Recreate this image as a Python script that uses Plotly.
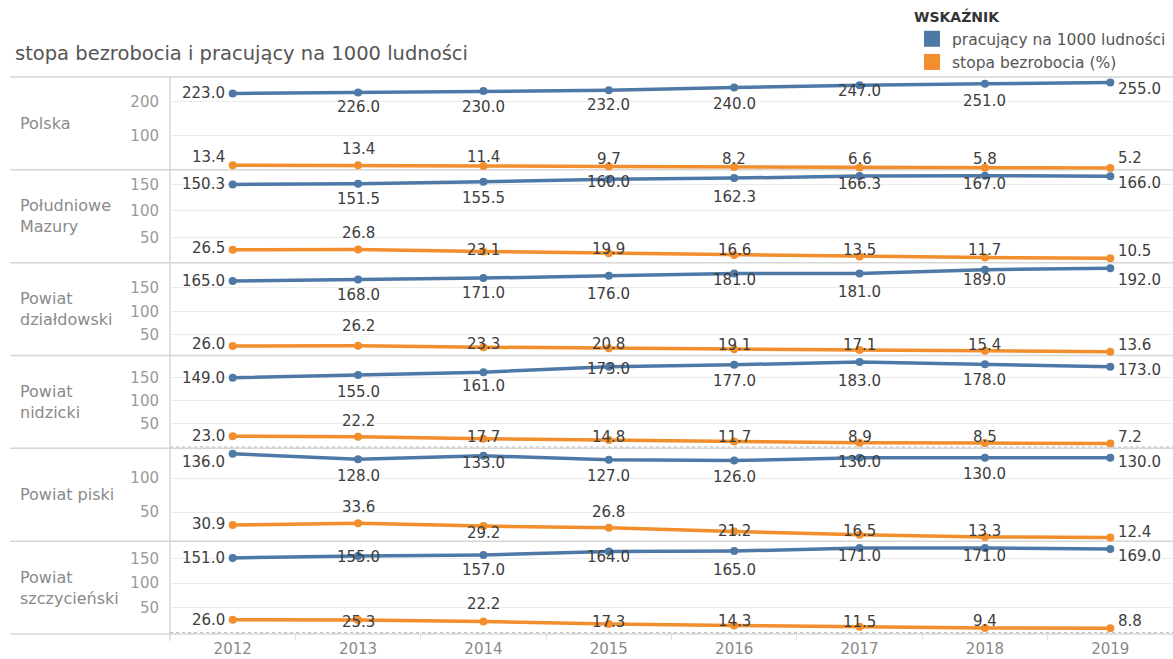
import plotly.graph_objects as go
from plotly.subplots import make_subplots

# --- data -----------------------------------------------------------------
years = [2012, 2013, 2014, 2015, 2016, 2017, 2018, 2019]

regions = ["Polska", "Południowe<br>Mazury", "Powiat<br>działdowski",
           "Powiat<br>nidzicki", "Powiat piski", "Powiat<br>szczycieński"]

series_names = ["pracujący na 1000 ludności", "stopa bezrobocia (%)"]

# pracujący na 1000 ludności
prac_polska = [223.0, 226.0, 230.0, 232.0, 240.0, 247.0, 251.0, 255.0]
prac_mazury = [150.3, 151.5, 155.5, 160.0, 162.3, 166.3, 167.0, 166.0]
prac_dzialdowski = [165.0, 168.0, 171.0, 176.0, 181.0, 181.0, 189.0, 192.0]
prac_nidzicki = [149.0, 155.0, 161.0, 173.0, 177.0, 183.0, 178.0, 173.0]
prac_piski = [136.0, 128.0, 133.0, 127.0, 126.0, 130.0, 130.0, 130.0]
prac_szczycienski = [151.0, 155.0, 157.0, 164.0, 165.0, 171.0, 171.0, 169.0]

# stopa bezrobocia (%)
stopa_polska = [13.4, 13.4, 11.4, 9.7, 8.2, 6.6, 5.8, 5.2]
stopa_mazury = [26.5, 26.8, 23.1, 19.9, 16.6, 13.5, 11.7, 10.5]
stopa_dzialdowski = [26.0, 26.2, 23.3, 20.8, 19.1, 17.1, 15.4, 13.6]
stopa_nidzicki = [23.0, 22.2, 17.7, 14.8, 11.7, 8.9, 8.5, 7.2]
stopa_piski = [30.9, 33.6, 29.2, 26.8, 21.2, 16.5, 13.3, 12.4]
stopa_szczycienski = [26.0, 25.3, 22.2, 17.3, 14.3, 11.5, 9.4, 8.8]

prac = [prac_polska, prac_mazury, prac_dzialdowski,
        prac_nidzicki, prac_piski, prac_szczycienski]
stopa = [stopa_polska, stopa_mazury, stopa_dzialdowski,
         stopa_nidzicki, stopa_piski, stopa_szczycienski]

# --- per-panel axis setup ---------------------------------------------------
y_ranges = [[0, 271], [2, 178], [5.5, 204], [-3, 197], [7, 144], [-3, 185]]
y_ticks = [[100, 200], [50, 100, 150], [50, 100, 150],
           [50, 100, 150], [50, 100], [50, 100, 150]]

# vertical nudge of each value label (px, positive = up)
prac_label_dy = [
    [0, -15, -16, -15, -16, -6, -17, -7],
    [0, -15, -16, -3, -19, -8, -8, -7],
    [0, -15, -15, -18, -7, -19, -10, -12],
    [0, -17, -14, -2, -16, -19, -16, -3],
    [-8, -17, -7, -16, -16, -4, -16, -4],
    [0, -1, -15, -5, -19, -8, -8, -7],
]
stopa_label_dy = [
    [8, 16, 9, 8, 8, 9, 9, 10],
    [2, 17, 2, 4, 5, 7, 8, 7],
    [2, 20, 3, 4, 4, 5, 6, 7],
    [0, 16, 2, 3, 5, 6, 6, 7],
    [1, 16, -7, 16, 1, 4, 6, 6],
    [0, -2, 18, 2, 4, 5, 7, 7],
]

# --- style ------------------------------------------------------------------
BLUE = "#4e79a7"
ORANGE = "#f28e2b"
FONT = "DejaVu Sans"
GRID = "#ececec"
RULE = "#d6d6d6"

W, H = 1173, 659
ML, MR, MT, MB = 170, 0, 77, 25
PLOT_W = W - ML - MR
N = len(regions)

fig = make_subplots(rows=N, cols=1, shared_xaxes=True, vertical_spacing=0)


def add_value_labels(row, values, offsets):
    n = len(values)
    for j, (yr, v) in enumerate(zip(years, values)):
        if j == 0:
            xanchor, xshift = "right", -6
        elif j == n - 1:
            xanchor, xshift = "left", 6
        else:
            xanchor, xshift = "center", 0
        fig.add_annotation(
            x=yr, y=v, text=f"{v:.1f}", showarrow=False,
            xanchor=xanchor, yanchor="middle", xshift=xshift, yshift=offsets[j],
            font=dict(family=FONT, size=15, color="#3d3d3d"),
            row=row, col=1,
        )


for i in range(N):
    row = i + 1
    for vals, color in ((prac[i], BLUE), (stopa[i], ORANGE)):
        fig.add_trace(
            go.Scatter(
                x=years, y=vals, mode="lines+markers",
                line=dict(color=color, width=3.5),
                marker=dict(color=color, size=8),
                showlegend=False, hoverinfo="skip", cliponaxis=False,
            ),
            row=row, col=1,
        )
    add_value_labels(row, prac[i], prac_label_dy[i])
    add_value_labels(row, stopa[i], stopa_label_dy[i])

    fig.update_yaxes(
        range=y_ranges[i], tickvals=y_ticks[i],
        showgrid=True, gridcolor=GRID, gridwidth=1,
        zeroline=False, showline=False, ticks="",
        ticklabelstandoff=10,
        tickfont=dict(family=FONT, size=15, color="#9a9a9a"),
        row=row, col=1,
    )

    # dotted zero line where the axis reaches 0
    if y_ranges[i][0] < 0:
        fig.add_shape(
            type="line", xref="x domain", x0=0, x1=1, y0=0, y1=0,
            line=dict(color="#bdbdbd", width=1, dash="dot"),
            row=row, col=1,
        )

    # row header
    fig.add_annotation(
        xref="paper", yref="paper",
        x=(18 - ML) / PLOT_W, y=1 - (i + 0.5) / N,
        text=regions[i], showarrow=False, xanchor="left", yanchor="middle",
        align="left", font=dict(family=FONT, size=16, color="#8a8a8a"),
    )

# panel separators and header column rule
for k in range(N + 1):
    fig.add_shape(
        type="line", xref="paper", yref="paper",
        x0=(10 - ML) / PLOT_W, x1=1, y0=k / N, y1=k / N,
        line=dict(color=RULE, width=1.5), layer="below",
    )
fig.add_shape(
    type="line", xref="paper", yref="paper",
    x0=0, x1=0, y0=-0.012, y1=1,
    line=dict(color=RULE, width=1.5), layer="below",
)

fig.update_xaxes(
    range=[2011.5, 2019.5], tickvals=years, showgrid=False,
    zeroline=False, showline=False, ticks="",
)
fig.update_xaxes(
    tickfont=dict(family=FONT, size=15, color="#8a8a8a"),
    ticklabelstandoff=4,
    minor=dict(ticks="outside", tick0=2011.5, dtick=1, ticklen=5,
               tickcolor="#e2e2e2", showgrid=False),
    row=N, col=1,
)

# legend swatches
for name, color in zip(series_names, (BLUE, ORANGE)):
    fig.add_trace(
        go.Scatter(x=[None], y=[None], mode="markers", name=name,
                   marker=dict(symbol="square", size=17, color=color)),
        row=1, col=1,
    )

fig.update_layout(
    width=W, height=H,
    margin=dict(l=ML, r=MR, t=MT, b=MB, autoexpand=False),
    paper_bgcolor="white", plot_bgcolor="rgba(0,0,0,0)",
    font=dict(family=FONT),
    title=dict(
        text="stopa bezrobocia i pracujący na 1000 ludności",
        xref="container", yref="container",
        x=15 / W, y=1 - 53 / H, xanchor="left", yanchor="middle",
        font=dict(family=FONT, size=19.5, color="#555555"),
    ),
    legend=dict(
        title=dict(text="<b>WSKAŹNIK</b>",
                   font=dict(family=FONT, size=14, color="#333333")),
        xref="container", yref="container",
        x=912 / W, y=1 - 4 / H, xanchor="left", yanchor="top",
        font=dict(family=FONT, size=15.5, color="#555555"),
        bgcolor="rgba(0,0,0,0)", itemwidth=30, tracegroupgap=0,
    ),
    showlegend=True,
)

fig.write_html("out.html")
